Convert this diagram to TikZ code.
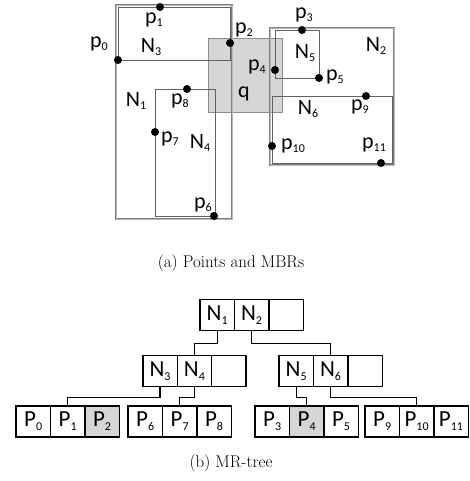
\documentclass[tikz,border=0pt]{standalone}
\usepackage{fontspec}
\newfontfamily\calfont{Carlito}
\usetikzlibrary{calc}
% label with a lowered small index, e.g. N_1
\newcommand\sublab[2]{#1\raisebox{-3.4pt}{\fontsize{12}{13}\selectfont #2}}
\tikzset{
  lbl/.style={font=\calfont\fontsize{22}{23}\selectfont, inner sep=0pt},
  pt/.style={circle, fill=black, minimum size=8pt, inner sep=0pt},
  mbr/.style={draw=black!62, line width=0.9pt},
  outer/.style={draw=black!50, line width=0.8pt, double=black!28, double distance=0.9pt},
  qbox/.style={fill=black!16, draw=black!45, line width=0.8pt},
  cell/.style={draw=black, line width=1.4pt, minimum width=34.4pt, minimum height=31pt,
    inner sep=0pt, font=\calfont\fontsize{23}{24}\selectfont},
  hit/.style={cell, fill=black!16},
  link/.style={draw=black, line width=1.3pt},
  captext/.style={font=\fontsize{17}{19}\selectfont, anchor=base, inner sep=0pt}
}
\begin{document}
\begin{tikzpicture}[x=1pt, y=-1pt]
\useasboundingbox (0,0) rectangle (469,481);

% ---------- (a) points and MBRs ----------
\path[qbox] (208,38) rectangle (282,112);
\path[outer] (116,5) rectangle (232,219);   % N1
\path[outer] (270,28) rectangle (394,165);  % N2
\path[mbr] (118,7) rectangle (230,60);      % N3
\path[mbr] (155,89) rectangle (215,216);    % N4
\path[mbr] (275,30) rectangle (319,78);     % N5
\path[mbr] (272,96) rectangle (392,163);    % N6

\node[pt] (p0) at (118,60) {};
\node[pt] (p1) at (160,7) {};
\node[pt] (p2) at (230,43) {};
\node[pt] (p3) at (302,30) {};
\node[pt] (p4) at (275,70) {};
\node[pt] (p5) at (319,78) {};
\node[pt] (p6) at (214,216) {};
\node[pt] (p7) at (155,132) {};
\node[pt] (p8) at (187,89) {};
\node[pt] (p9) at (366,96) {};
\node[pt] (p10) at (272,146) {};
\node[pt] (p11) at (381,163) {};

\node[lbl] (tp0) at (99,44) {\sublab{p}{0}};
\node[lbl] (tp1) at (154,20) {\sublab{p}{1}};
\node[lbl] (tp2) at (244,30) {\sublab{p}{2}};
\node[lbl] (tp3) at (304,15) {\sublab{p}{3}};
\node[lbl] (tp4) at (257,67) {\sublab{p}{4}};
\node[lbl] (tp5) at (335,77) {\sublab{p}{5}};
\node[lbl] (tp6) at (203,205) {\sublab{p}{6}};
\node[lbl] (tp7) at (170,139) {\sublab{p}{7}};
\node[lbl] (tp8) at (180,101) {\sublab{p}{8}};
\node[lbl] (tp9) at (360,107) {\sublab{p}{9}};
\node[lbl] (tp10) at (293,146) {\sublab{p}{10}};
\node[lbl] (tp11) at (374,145) {\sublab{p}{11}};
\node[lbl] (tq) at (244,94) {q};
\node[lbl] (tN1) at (136,101) {\sublab{N}{1}};
\node[lbl] (tN2) at (376,46) {\sublab{N}{2}};
\node[lbl] (tN3) at (151,47) {\sublab{N}{3}};
\node[lbl] (tN4) at (200,143) {\sublab{N}{4}};
\node[lbl] (tN5) at (305,53) {\sublab{N}{5}};
\node[lbl] (tN6) at (308,109) {\sublab{N}{6}};

\node[captext] (capa) at (231,267) {(a) Points and MBRs};

% ---------- (b) MR-tree ----------
\node[cell] (r1) at (217.2,315) {\sublab{N}{1}};
\node[cell] (r2) at (251.6,315) {\sublab{N}{2}};
\node[cell] (r3) at (286.0,315) {};

\node[cell] (a1) at (160.0,371) {\sublab{N}{3}};
\node[cell] (a2) at (194.4,371) {\sublab{N}{4}};
\node[cell] (a3) at (228.8,371) {};

\node[cell] (b1) at (296.2,371) {\sublab{N}{5}};
\node[cell] (b2) at (330.6,371) {\sublab{N}{6}};
\node[cell] (b3) at (365.0,371) {};

\node[cell] (l0) at (33.2,421.3) {\sublab{P}{0}};
\node[cell] (l1) at (67.6,421.3) {\sublab{P}{1}};
\node[hit]  (l2) at (102.0,421.3) {\sublab{P}{2}};
\node[cell] (l6) at (145.2,421.3) {\sublab{P}{6}};
\node[cell] (l7) at (179.6,421.3) {\sublab{P}{7}};
\node[cell] (l8) at (214.0,421.3) {\sublab{P}{8}};
\node[cell] (l3) at (272.2,421.3) {\sublab{P}{3}};
\node[hit]  (l4) at (306.6,421.3) {\sublab{P}{4}};
\node[cell] (l5) at (341.0,421.3) {\sublab{P}{5}};
\node[cell] (l9) at (382.2,421.3) {\sublab{P}{9}};
\node[cell] (l10) at (416.6,421.3) {\sublab{P}{10}};
\node[cell] (l11) at (451.0,421.3) {\sublab{P}{11}};

\draw[link] (r1.south) -- ++(0,12) -| (a2.north);
\draw[link] (r2.south) -- ++(0,12.6) -| (b2.north);
\draw[link] (a1.south) -- ++(0,10) -| (l1.north);
\draw[link] (a2.south) -- ++(0,10.5) -| (l7.north);
\draw[link] (b1.south) -- ++(0,10.5) -| (l4.north);
\draw[link] (b2.south) -- ++(0,10.5) -| (l10.north);

\node[captext] (capb) at (231,467) {(b) MR-tree};
\end{tikzpicture}
\end{document}
